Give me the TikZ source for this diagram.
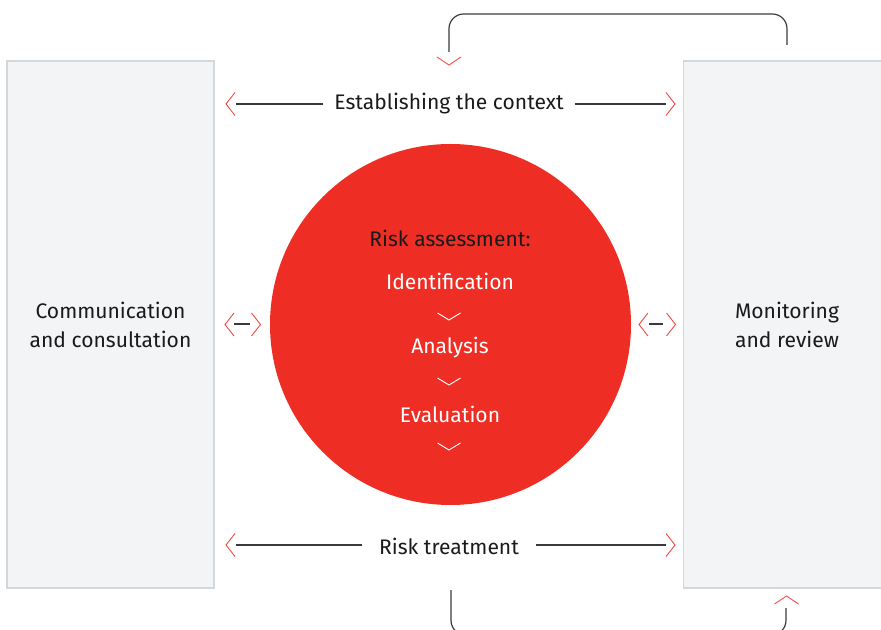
\documentclass[tikz,border=0pt]{standalone}
\usepackage{fontspec}
\setmainfont{Fira Sans}
\usetikzlibrary{positioning}
\definecolor{riskred}{HTML}{EE2E24}
\definecolor{boxfill}{HTML}{F3F4F6}
\definecolor{boxline}{HTML}{D2D7DB}
\definecolor{inkdark}{HTML}{1A1A1A}
\definecolor{wire}{HTML}{3A3A3A}
\tikzset{
  sidebox/.style={draw=boxline,fill=boxfill,line width=1pt,minimum width=155.25pt,minimum height=395.25pt,align=center,text=inkdark,font=\fontsize{15.8}{21.75}\selectfont},
  steplabel/.style={text=inkdark,font=\fontsize{15.8}{19}\selectfont,inner ysep=2pt},
  innerlabel/.style={text=white,font=\fontsize{15.8}{19}\selectfont},
  conn/.style={draw=wire,line width=0.8pt},
  loopline/.style={draw=wire,line width=0.9pt,rounded corners=11pt},
  chevline/.style={draw=riskred!85,line width=0.7pt},
  pics/chevL/.style={code={\draw[chevline] (4.5,-11.5) -- (-4.5,0) -- (4.5,11.5);}},
  pics/chevR/.style={code={\draw[chevline] (-4.5,-11.5) -- (4.5,0) -- (-4.5,11.5);}},
  pics/chevD/.style={code={\draw[chevline] (-12,-4) -- (0,4) -- (12,-4);}},
  pics/chevU/.style={code={\draw[chevline] (-12,4) -- (0,-4) -- (12,4);}},
  pics/chevW/.style={code={\draw[draw=white,line width=0.7pt] (-11.5,-3.5) -- (0,3.5) -- (11.5,-3.5);}}
}
\begin{document}
\begin{tikzpicture}[x=0.75pt,y=-0.75pt]
\useasboundingbox (0,0) rectangle (881,630);
\clip (0,0) rectangle (881,630);

% side boxes
\node (comm) [sidebox] at (110.5,324.5) {Communication\\and consultation};
\node (monitor) [sidebox] at (787,324.5) {Monitoring\\and review};

% the assessment circle
\node (risk) [circle,fill=riskred,minimum size=270.75pt,inner sep=0pt] at (450.5,324.5) {};
\node (rass) [steplabel] at (450,238) {Risk assessment:};
\node (ident) [innerlabel] at (450,281) {Identification};
\node (anal) [innerlabel] at (450,348) {Analysis};
\node (evalu) [innerlabel] at (450,414) {Evaluation};
\pic at (449,316.5) {chevW};
\pic at (449,381.5) {chevW};
\pic at (449,446.5) {chevW};

% context and treatment rows
\node (ctx) [steplabel,inner xsep=8pt] at (449,104) {Establishing the context};
\node (treat) [steplabel,inner xsep=12.5pt] at (449,546) {Risk treatment};
\coordinate (ctxL) at (236,104);
\coordinate (ctxR) at (666,104);
\coordinate (treatL) at (236,545);
\coordinate (treatR) at (666,545);
\draw[conn] (ctx) -- (ctxL);
\draw[conn] (ctx) -- (ctxR);
\draw[conn] (treat.west |- treatL) -- (treatL);
\draw[conn] (treat.east |- treatR) -- (treatR);
\pic at (230.5,104) {chevL};
\pic at (670.5,104) {chevR};
\pic at (230.5,545) {chevL};
\pic at (670.5,545) {chevR};

% short links between boxes and circle
\coordinate (midLa) at (234,324);
\coordinate (midLb) at (250,324);
\coordinate (midRa) at (649,324);
\coordinate (midRb) at (663,324);
\draw[conn] (midLa) -- (midLb);
\draw[conn] (midRa) -- (midRb);
\pic at (229.5,324.5) {chevL};
\pic at (256,324.5) {chevR};
\pic at (643.5,324.5) {chevL};
\pic at (671,324.5) {chevR};

% feedback loops
\coordinate (loopA) at (787,45);
\coordinate (loopB) at (449,52);
\coordinate (loopC) at (451,590);
\coordinate (loopD) at (786,608);
\draw[loopline] (loopA) -- ++(0,-31) -| (loopB);
\draw[loopline] (loopC) -- ++(0,45) -| (loopD);
\pic at (449,61) {chevD};
\pic at (786.5,600) {chevU};

\end{tikzpicture}
\end{document}
